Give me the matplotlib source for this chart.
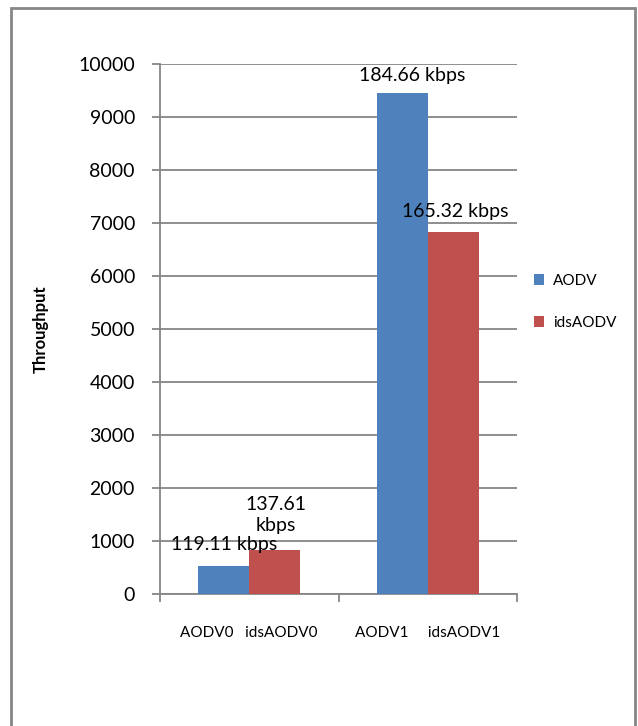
import matplotlib
matplotlib.use('Agg')
import matplotlib.pyplot as plt
import numpy as np
from matplotlib.patches import Rectangle

plt.rcParams['font.family'] = ['Lato', 'DejaVu Sans']

# data
groups = ['AODV0   idsAODV0', 'AODV1     idsAODV1']
series = ['AODV', 'idsAODV']
aodv = [530, 9455]
ids_aodv = [830, 6830]
labels_aodv = ['119.11 kbps', '184.66 kbps']
labels_ids = ['137.61\nkbps', '165.32 kbps']

yticks = np.arange(0, 10001, 1000)

# label offsets from bar top (x in category units, y in data units)
off_aodv = [(0.0, 395), (0.055, 335)]
off_ids = [(0.005, 660), (0.01, 378)]

blue = '#4F81BD'
red = '#C0504D'
gray = '#868686'

W, H = 638, 726
fig = plt.figure(figsize=(W / 100, H / 100), dpi=100)
ax = fig.add_axes([160 / W, 1 - 594 / H, (517 - 160) / W, (594 - 64) / H])

x = np.arange(len(groups)) + 0.5
bw = 0.285
b1 = ax.bar(x - bw / 2, aodv, bw, color=blue, label=series[0], zorder=3)
b2 = ax.bar(x + bw / 2, ids_aodv, bw, color=red, label=series[1], zorder=3)

for i in range(len(groups)):
    dx, dy = off_aodv[i]
    ax.text(x[i] - bw / 2 + dx, aodv[i] + dy, labels_aodv[i], ha='center', va='center',
            fontsize=14, zorder=5)
    dx, dy = off_ids[i]
    ax.text(x[i] + bw / 2 + dx, ids_aodv[i] + dy, labels_ids[i], ha='center', va='center',
            fontsize=14, linespacing=1.35, zorder=5)

ax.set_xlim(0, len(groups))
ax.set_ylim(0, 10000)
ax.set_yticks(yticks)
ax.set_yticklabels([str(v) for v in yticks], fontsize=14)
ax.set_xticks(x)
ax.set_xticklabels(groups, fontsize=11)
ax.set_xticks(np.arange(len(groups) + 1), minor=True)
ax.tick_params(axis='x', which='major', length=0, pad=23)
ax.tick_params(axis='x', which='minor', length=6, width=1.3, color=gray, direction='out')
ax.tick_params(axis='y', length=6, width=1.3, color=gray, pad=12)

ax.grid(axis='y', color=gray, linewidth=1.3, zorder=0)
for s in ['top', 'right']:
    ax.spines[s].set_visible(False)
for s in ['left', 'bottom']:
    ax.spines[s].set_color(gray)
    ax.spines[s].set_linewidth(1.3)

ax.set_ylabel('Throughput', fontsize=12, fontweight='bold')
ax.yaxis.set_label_coords((49 - 160) / 357, 0.5)

fig.legend(handles=[b1, b2], loc='center left', bbox_to_anchor=(520 / W, 1 - 302 / H),
           frameon=False, fontsize=11, handlelength=0.7, handleheight=0.7,
           handletextpad=0.55, labelspacing=1.85)

fig.patches.append(Rectangle((11 / W, -0.05), (635 - 11) / W, 1.05 - 8 / H,
                             transform=fig.transFigure, fill=False,
                             edgecolor=gray, linewidth=2, zorder=0))

fig.savefig('out.png', dpi=100)
